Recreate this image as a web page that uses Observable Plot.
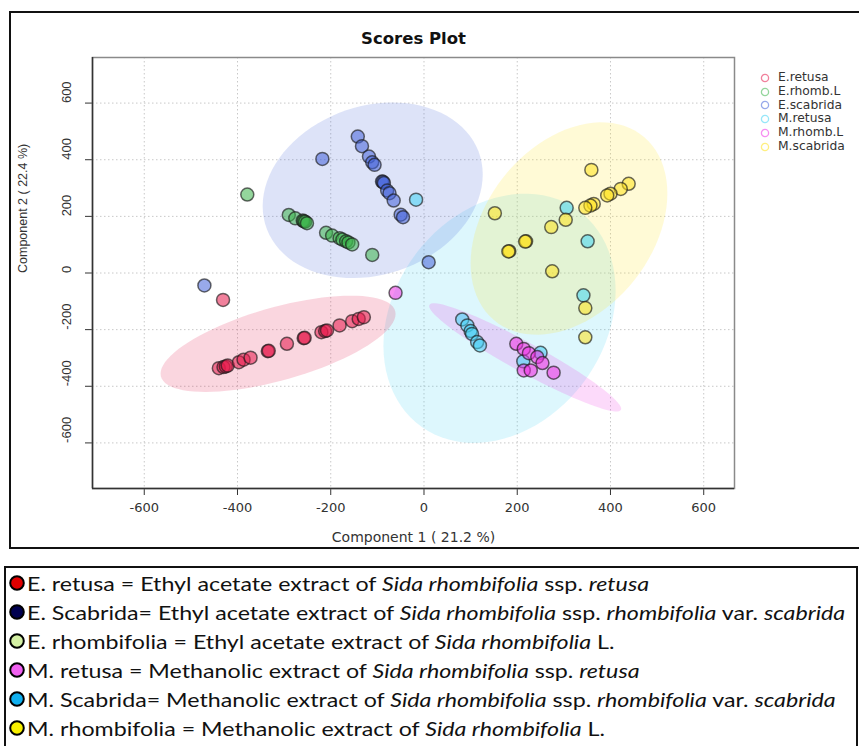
<!DOCTYPE html>
<html>
<head>
<meta charset="utf-8">
<script src="https://cdn.jsdelivr.net/npm/d3@7"></script>
<script src="https://cdn.jsdelivr.net/npm/@observablehq/plot@0.6"></script>
<style>
  html, body { margin: 0; padding: 0; background: #fff; }
  #fig { position: relative; width: 859px; height: 746px; overflow: hidden; background: #fff; }
  #chartbox { position: absolute; left: 9px; top: 11px; width: 900px; height: 538px; border: 2px solid #111; box-sizing: border-box; }
  #plot { position: absolute; left: 0; top: 0; }
  #legend { position: absolute; left: 759px; top: 71px; font-family: "DejaVu Sans", sans-serif; font-size: 12.3px; color: #333; }
  #legend .row { height: 13.8px; line-height: 13.8px; white-space: nowrap; display: flex; align-items: center; }
  #legend svg { margin-right: 7px; }
  #keybox { position: absolute; left: 4px; top: 566px; width: 854px; height: 240px; border: 2px solid #111; box-sizing: border-box; }
  #key { position: absolute; left: 0; top: 0; font-family: Lato, "Open Sans", sans-serif; font-size: 19px; color: #111; }
  #key .row { position: absolute; left: 0; white-space: nowrap; display: flex; align-items: center; height: 26px; }
  #key svg { margin-right: 1px; flex: none; }
  #key .txt { display: inline-block; transform: scaleX(1.222); transform-origin: 0 50%; }
</style>
</head>
<body>
<div id="fig">
  <div id="chartbox"></div>
  <div id="plot"></div>
  <div id="legend"></div>
  <div id="keybox"></div>
  <div id="key"></div>
</div>
<script>
// ---------- data ----------
const groups = ["E.retusa", "E.rhomb.L", "E.scabrida", "M.retusa", "M.rhomb.L", "M.scabrida"];
const groupColors = ["#e6194b", "#3cb44b", "#4363d8", "#42d4f4", "#f032e6", "#ffe119"];

const eRetusaX = [-431, -440, -430, -425, -421, -397, -387, -372, -335, -333, -294, -258, -256, -220, -212, -208, -181, -154, -140, -129];
const eRetusaY = [-95, -336, -332, -330, -327, -315, -306, -299, -276, -275, -250, -230, -229, -209, -205, -203, -185, -170, -162, -156];

const eRhombX = [-379, -290, -276, -260, -258, -255, -251, -210, -197, -181, -175, -167, -162, -154, -111];
const eRhombY = [277, 205, 193, 185, 183, 181, 176, 142, 132, 123, 118, 112, 108, 101, 64];

const eScabX = [-218, -142, -133, -118, -111, -106, -90, -88, -86, -79, -74, -65, -50, -45, 10, -471];
const eScabY = [403, 482, 448, 411, 391, 382, 323, 322, 318, 291, 282, 256, 206, 197, 38, -44];

const mRetusaX = [-17, 82, 93, 100, 103, 114, 120, 250, 213, 306, 351, 342];
const mRetusaY = [259, -164, -185, -205, -215, -244, -256, -282, -312, 230, 112, -79];

const mRhombX = [-61, 198, 214, 225, 243, 254, 214, 229, 278];
const mRhombY = [-70, -250, -268, -283, -297, -318, -344, -344, -352];

const mScabX = [359, 439, 422, 400, 393, 364, 357, 346, 152, 304, 273, 219, 217, 183, 181, 275, 346, 346];
const mScabY = [364, 315, 297, 280, 274, 244, 238, 230, 211, 188, 162, 112, 111, 77, 76, 6, -124, -227];

// confidence ellipses (centre, half-width, half-height, x/y correlation), drawing order
const ellipseGroups = ["M.retusa", "E.scabrida", "E.retusa", "M.rhomb.L", "M.scabrida"];
const ellipseCx = [162, -110, -313, 217, 311];
const ellipseCy = [-160, 292, -250, -298, 157];
const ellipseW = [249, 236, 252, 206, 211];
const ellipseH = [440, 310, 170, 191, 375];
const ellipseRho = [0.22, 0.18, 0.62, -0.95, 0.33];

const xTicks = [-600, -400, -200, 0, 200, 400, 600];
const yTicks = [-600, -400, -200, 0, 200, 400, 600];
const xDomain = [-711, 666];
const yDomain = [-761, 761];

const titleText = "Scores Plot";
const xLabel = "Component 1 ( 21.2 %)";
const yLabel = "Component 2 ( 22.4 %)";

// bottom key
const keyColors = ["#e00000", "#000050", "#d4f0a4", "#f060f0", "#10b0f0", "#f8f000"];
const keyLines = [
  [["E. retusa = Ethyl acetate extract of ", 0], ["Sida rhombifolia", 1], [" ssp. ", 0], ["retusa", 1]],
  [["E. Scabrida= Ethyl acetate extract of ", 0], ["Sida rhombifolia", 1], [" ssp. ", 0], ["rhombifolia", 1], [" var. ", 0], ["scabrida", 1]],
  [["E. rhombifolia = Ethyl acetate extract of ", 0], ["Sida rhombifolia", 1], [" L.", 0]],
  [["M. retusa = Methanolic extract of ", 0], ["Sida rhombifolia", 1], [" ssp. ", 0], ["retusa", 1]],
  [["M. Scabrida= Methanolic extract of ", 0], ["Sida rhombifolia", 1], [" ssp. ", 0], ["rhombifolia", 1], [" var. ", 0], ["scabrida", 1]],
  [["M. rhombifolia = Methanolic extract of ", 0], ["Sida rhombifolia", 1], [" L.", 0]]
];

// ---------- build tables ----------
const seriesX = [eRetusaX, eRhombX, eScabX, mRetusaX, mRhombX, mScabX];
const seriesY = [eRetusaY, eRhombY, eScabY, mRetusaY, mRhombY, mScabY];
const points = [];
groups.forEach((g, gi) => seriesX[gi].forEach((x, i) => points.push({group: g, x, y: seriesY[gi][i]})));

const ellipseRows = [];
ellipseGroups.forEach((g, k) => {
  const phi = Math.acos(ellipseRho[k]);
  const n = 90;
  for (let i = 0; i < n; i++) {
    const t = 2 * Math.PI * i / n;
    ellipseRows.push({group: g, x: ellipseCx[k] + ellipseW[k] * Math.cos(t), y: ellipseCy[k] + ellipseH[k] * Math.cos(t + phi)});
  }
});

// ---------- chart ----------
const chart = Plot.plot({
  width: 859,
  height: 560,
  marginLeft: 92,
  marginRight: 125,
  marginTop: 57,
  marginBottom: 72,
  style: {background: "transparent", fontFamily: "DejaVu Sans, sans-serif", fontSize: "13px", color: "#333"},
  x: {domain: xDomain, ticks: xTicks, tickSize: 7, tickPadding: 7, label: null, tickFormat: d => String(d)},
  y: {domain: yDomain, ticks: yTicks, tickSize: 7, tickFormat: () => "", label: null},
  color: {domain: groups, range: groupColors},
  marks: [
    Plot.gridX(xTicks, {stroke: "#c8c8c8", strokeOpacity: 1, strokeDasharray: "1.5,2.5"}),
    Plot.gridY(yTicks, {stroke: "#c8c8c8", strokeOpacity: 1, strokeDasharray: "1.5,2.5"}),
    Plot.line(ellipseRows, {x: "x", y: "y", z: "group", fill: "group", fillOpacity: 0.18, stroke: null, curve: "linear-closed"}),
    Plot.dot(points, {x: "x", y: "y", fill: "group", fillOpacity: 0.55, stroke: "#1a1a1a", strokeOpacity: 0.65, strokeWidth: 1.5, r: 6.5}),
    Plot.frame({stroke: "#8a8a8a", strokeWidth: 1.5}),
    Plot.ruleX([xDomain[0]], {stroke: "#333", strokeWidth: 1.5}),
    Plot.ruleY([yDomain[0]], {stroke: "#333", strokeWidth: 1.5}),
    Plot.text(yTicks, {y: d => d, frameAnchor: "left", dx: -26, rotate: -90, text: d => String(d), fontFamily: "Liberation Sans, Arial, sans-serif", fontSize: 13, fill: "#333"}),
    Plot.text([titleText], {frameAnchor: "top", dy: -19, text: d => d, fontWeight: "bold", fontSize: 16.5, fill: "#111", lineAnchor: "middle"}),
    Plot.text([xLabel], {frameAnchor: "bottom", dy: 49, text: d => d, fontSize: 14, fill: "#333", lineAnchor: "middle"}),
    Plot.text([yLabel], {frameAnchor: "left", dx: -70, rotate: -90, text: d => d, fontFamily: "Liberation Sans, Arial, sans-serif", fontSize: 12.5, fill: "#333", lineAnchor: "middle"})
  ]
});
document.getElementById("plot").appendChild(chart);

// ---------- right legend ----------
const legend = document.getElementById("legend");
groups.forEach((g, i) => {
  const row = document.createElement("div");
  row.className = "row";
  row.innerHTML = `<svg width="12" height="12"><circle cx="6" cy="6" r="3.6" fill="none" stroke="${groupColors[i]}" stroke-opacity="0.55" stroke-width="1.3"/></svg><span>${g}</span>`;
  legend.appendChild(row);
});

// ---------- bottom key ----------
const key = document.getElementById("key");
const keyTops = [570, 599, 628, 657, 686, 715];
keyLines.forEach((segs, i) => {
  const row = document.createElement("div");
  row.className = "row";
  row.style.top = keyTops[i] + "px";
  const circ = `<svg width="26" height="18"><circle cx="17" cy="9" r="6.8" fill="${keyColors[i]}" stroke="#000" stroke-width="2"/></svg>`;
  const txt = segs.map(([s, it]) => it ? `<i>${s}</i>` : `<span>${s.replace(/ /g, "&nbsp;")}</span>`).join("");
  row.innerHTML = circ + `<span class="txt">${txt}</span>`;
  key.appendChild(row);
});
</script>
</body>
</html>
